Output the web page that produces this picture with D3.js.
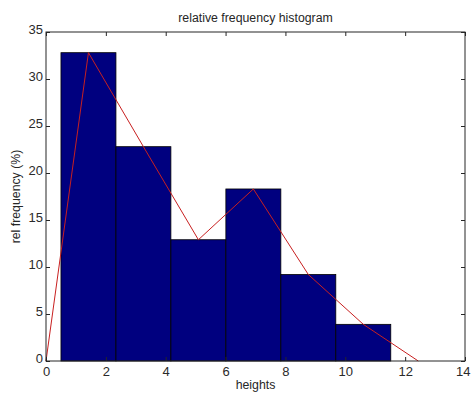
<!DOCTYPE html>
<html>
<head>
<meta charset="utf-8">
<script src="https://cdn.jsdelivr.net/npm/d3@7"></script>
<style>
  html, body { margin: 0; padding: 0; background: #fff; }
  svg { display: block; }
  text { font-family: "Liberation Sans", Arial, sans-serif; fill: #262626; }
</style>
</head>
<body>
<svg id="chart" width="471" height="394"></svg>
<script>
// Histogram bin edges (heights) and relative frequency per bin (%)
const binEdges = [0.5, 2.337, 4.173, 6.01, 7.847, 9.683, 11.52];
const relFreq = [32.8, 22.8, 12.9, 18.3, 9.2, 3.9];
// Frequency polygon vertices: bin centres, closed to zero on both ends
const polyX = [0, 1.418, 3.255, 5.092, 6.928, 8.765, 10.602, 12.438];
const polyY = [0, 32.8, 22.8, 12.9, 18.3, 9.2, 3.9, 0];
const xTicks = [0, 2, 4, 6, 8, 10, 12, 14];
const yTicks = [0, 5, 10, 15, 20, 25, 30, 35];

const svg = d3.select("#chart");
const m = { left: 46, right: 465, top: 32, bottom: 361 };

const x = d3.scaleLinear().domain([0, 14]).range([m.left, m.right]);
const y = d3.scaleLinear().domain([0, 35]).range([m.bottom, m.top]);

// Bars
const bins = relFreq.map((v, i) => ({ x0: binEdges[i], x1: binEdges[i + 1], v }));
svg.append("g").selectAll("rect").data(bins).join("rect")
  .attr("x", d => x(d.x0))
  .attr("y", d => y(d.v))
  .attr("width", d => x(d.x1) - x(d.x0))
  .attr("height", d => y(0) - y(d.v))
  .attr("fill", "#00007f")
  .attr("stroke", "#000")
  .attr("stroke-width", 0.8);

// Frequency polygon
const line = d3.line().x(d => x(d[0])).y(d => y(d[1]));
svg.append("path")
  .datum(polyX.map((px, i) => [px, polyY[i]]))
  .attr("d", line)
  .attr("fill", "none")
  .attr("stroke", "#c82020")
  .attr("stroke-width", 1);

// Axes with inward ticks on all four sides
const tickLen = 4;
const axisStyle = g => {
  g.select(".domain").remove();
  g.selectAll("line").attr("stroke", "#262626");
  g.selectAll("text").style("font-size", "13px").style("fill", "#2a2a2a");
};
svg.append("g").attr("transform", `translate(0,${m.bottom})`)
  .call(d3.axisBottom(x).tickValues(xTicks).tickSize(-tickLen).tickPadding(6).tickFormat(d3.format("d")))
  .call(axisStyle)
  // keep the last label inside the canvas edge
  .call(g => g.selectAll(".tick").filter(d => d === 14).select("text")
    .attr("text-anchor", "end").attr("x", 5));
svg.append("g").attr("transform", `translate(0,${m.top})`)
  .call(d3.axisTop(x).tickValues(xTicks).tickSize(-tickLen).tickFormat(""))
  .call(axisStyle);
svg.append("g").attr("transform", `translate(${m.left},0)`)
  .call(d3.axisLeft(y).tickValues(yTicks).tickSize(-tickLen).tickPadding(3).tickFormat(d3.format("d")))
  .call(axisStyle)
  .call(g => g.selectAll("text").attr("dy", "0.1em"));
svg.append("g").attr("transform", `translate(${m.right},0)`)
  .call(d3.axisRight(y).tickValues(yTicks).tickSize(-tickLen).tickFormat(""))
  .call(axisStyle);

// Box
svg.append("rect")
  .attr("x", m.left).attr("y", m.top)
  .attr("width", m.right - m.left).attr("height", m.bottom - m.top)
  .attr("fill", "none").attr("stroke", "#262626").attr("stroke-width", 1);

// Titles
svg.append("text").attr("x", (m.left + m.right) / 2).attr("y", 22)
  .attr("text-anchor", "middle").style("font-size", "12.3px")
  .text("relative frequency histogram");
svg.append("text").attr("x", (m.left + m.right) / 2).attr("y", 389)
  .attr("text-anchor", "middle").style("font-size", "12.3px")
  .text("heights");
svg.append("text")
  .attr("transform", `translate(20,${(m.top + m.bottom) / 2}) rotate(-90)`)
  .attr("text-anchor", "middle").style("font-size", "12.3px")
  .text("rel frequency (%)");
</script>
</body>
</html>
